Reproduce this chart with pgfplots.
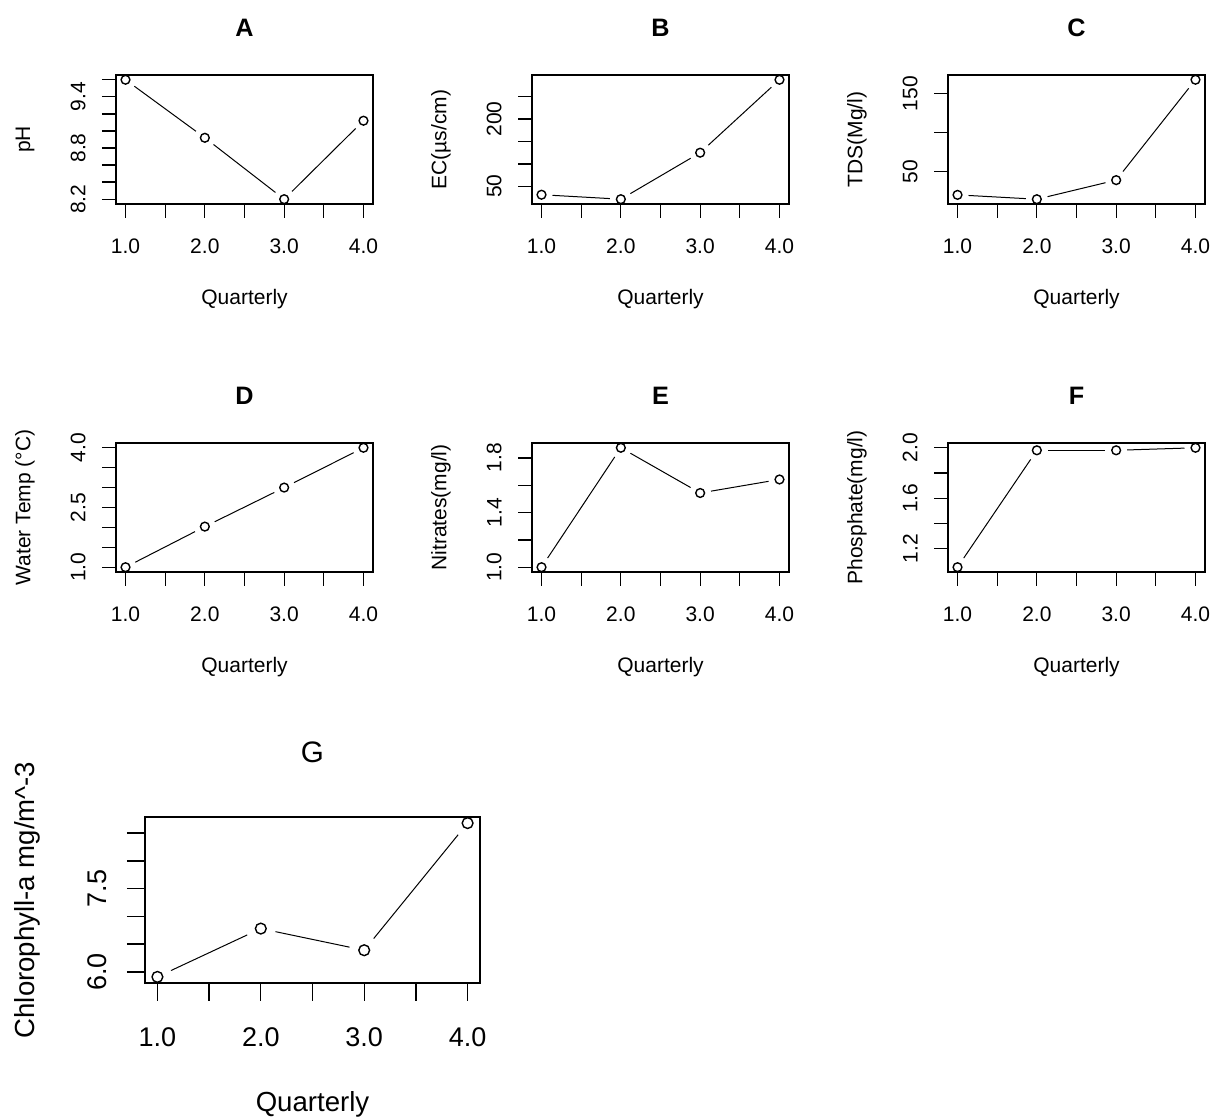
\documentclass[border=0pt]{standalone}
\usepackage{fontspec}
\setmainfont{Liberation Sans}
\usepackage{pgfplots}
\pgfplotsset{compat=1.18}
\pgfplotsset{
  rline/.style={black, line width=0.5pt, shorten >=5.5pt, shorten <=5.5pt, mark=none, forget plot},
  rmark/.style={black, only marks, mark=o, mark size=2.2pt, mark options={line width=0.7pt}},
  rbase/.style={
    scale only axis, anchor=south west,
    xmin=0.88, xmax=4.12,
    xtick={1,1.5,2,2.5,3,3.5,4}, xticklabels={1.0,,2.0,,3.0,,4.0},
    xtick pos=bottom, ytick pos=left, tick align=outside,
    minor tick num=0,
    axis line style={line width=0.65pt, black},
    every tick/.append style={black, line width=0.65pt},
    /pgf/number format/assume math mode=true,
    xticklabel style={anchor=north, inner sep=0pt},
    yticklabel style={rotate=90, anchor=south, inner sep=0pt},
    xlabel={Quarterly},
    every axis title shift=0pt,
    clip=false,
  },
  rpanel/.style={
    rbase, width=128.5pt, height=64.5pt,
    major tick length=7pt,
    tick label style={font=\fontsize{10.5}{12}\selectfont},
    label style={font=\fontsize{10.5}{12}\selectfont},
    xticklabel shift=10pt, yticklabel shift=8pt,
    xlabel style={at={(axis description cs:0.5,-0.74)}, anchor=center},
    ylabel style={at={(axis description cs:-0.354,0.5)}, anchor=center},
    title style={at={(axis description cs:0.5,1.364)}, anchor=center, font=\fontsize{12.6}{14}\selectfont\bfseries},
  },
  gpanel/.style={
    rbase, width=167.5pt, height=83pt,
    major tick length=9pt,
    tick label style={font=\fontsize{13.5}{15}\selectfont},
    label style={font=\fontsize{13.8}{16}\selectfont},
    xticklabel shift=13pt, yticklabel shift=10pt,
    xlabel style={at={(axis description cs:0.5,-0.729)}, anchor=center},
    ylabel style={at={(axis description cs:-0.352,0.5)}, anchor=center},
    title style={at={(axis description cs:0.5,1.39)}, anchor=center, font=\fontsize{14.8}{17}\selectfont},
  },
}
\begin{document}
\begin{tikzpicture}
\path[use as bounding box] (0,0) rectangle (605.5pt,559pt);

% A
\begin{axis}[rpanel, at={(58pt,457pt)}, title={A}, ylabel={pH},
  ymin=8.144, ymax=9.656,
  ytick={8.2,8.4,8.6,8.8,9.0,9.2,9.4,9.6}, yticklabels={8.2,,,8.8,,,9.4,}]
\addplot[rline] coordinates {(1,9.6) (2,8.92)};
\addplot[rline] coordinates {(2,8.92) (3,8.2)};
\addplot[rline] coordinates {(3,8.2) (4,9.12)};
\addplot[rmark] coordinates {(1,9.6) (2,8.92) (3,8.2) (4,9.12)};
\end{axis}

% B
\begin{axis}[rpanel, at={(266pt,457pt)}, title={B}, ylabel={EC(µs/cm)},
  ymin=10.3, ymax=298.7,
  ytick={50,100,150,200,250}, yticklabels={50,,,200,}]
\addplot[rline] coordinates {(1,31) (2,21)};
\addplot[rline] coordinates {(2,21) (3,125)};
\addplot[rline] coordinates {(3,125) (4,288)};
\addplot[rmark] coordinates {(1,31) (2,21) (3,125) (4,288)};
\end{axis}

% C
\begin{axis}[rpanel, at={(474pt,457pt)}, title={C}, ylabel={TDS(Mg/l)},
  ymin=8.6, ymax=174.1,
  ytick={50,100,150}, yticklabels={50,,150}]
\addplot[rline] coordinates {(1,20.3) (2,14.7)};
\addplot[rline] coordinates {(2,14.7) (3,39.2)};
\addplot[rline] coordinates {(3,39.2) (4,168)};
\addplot[rmark] coordinates {(1,20.3) (2,14.7) (3,39.2) (4,168)};
\end{axis}

% D
\begin{axis}[rpanel, at={(58pt,273pt)}, title={D}, ylabel={Water Temp (°C)},
  ymin=0.88, ymax=4.12,
  ytick={1,1.5,2,2.5,3,3.5,4}, yticklabels={1.0,,,2.5,,,4.0}]
\addplot[rline] coordinates {(1,1.0) (2,2.02)};
\addplot[rline] coordinates {(2,2.02) (3,3.0)};
\addplot[rline] coordinates {(3,3.0) (4,4.0)};
\addplot[rmark] coordinates {(1,1.0) (2,2.02) (3,3.0) (4,4.0)};
\end{axis}

% E
\begin{axis}[rpanel, at={(266pt,273pt)}, title={E}, ylabel={Nitrates(mg/l)},
  ymin=0.965, ymax=1.909,
  ytick={1.0,1.2,1.4,1.6,1.8}, yticklabels={1.0,,1.4,,1.8}]
\addplot[rline] coordinates {(1,1.0) (2,1.874)};
\addplot[rline] coordinates {(2,1.874) (3,1.543)};
\addplot[rline] coordinates {(3,1.543) (4,1.642)};
\addplot[rmark] coordinates {(1,1.0) (2,1.874) (3,1.543) (4,1.642)};
\end{axis}

% F
\begin{axis}[rpanel, at={(474pt,273pt)}, title={F}, ylabel={Phosphate(mg/l)},
  ymin=1.015, ymax=2.038,
  ytick={1.2,1.4,1.6,1.8,2.0}, yticklabels={1.2,,1.6,,2.0}]
\addplot[rline] coordinates {(1,1.053) (2,1.98)};
\addplot[rline] coordinates {(2,1.98) (3,1.98)};
\addplot[rline] coordinates {(3,1.98) (4,2.0)};
\addplot[rmark] coordinates {(1,1.053) (2,1.98) (3,1.98) (4,2.0)};
\end{axis}

% G
\begin{axis}[gpanel, at={(72.5pt,67.5pt)}, title={G}, ylabel={Chlorophyll-a mg/m\textasciicircum-3},
  ymin=5.80, ymax=8.79,
  ytick={6.0,6.5,7.0,7.5,8.0,8.5}, yticklabels={6.0,,,7.5,,},
  rline/.append style={shorten >=7.5pt, shorten <=7.5pt},
  rmark/.append style={mark size=2.7pt}]
\addplot[rline] coordinates {(1,5.91) (2,6.78)};
\addplot[rline] coordinates {(2,6.78) (3,6.39)};
\addplot[rline] coordinates {(3,6.39) (4,8.68)};
\addplot[rmark] coordinates {(1,5.91) (2,6.78) (3,6.39) (4,8.68)};
\end{axis}
\end{tikzpicture}
\end{document}
